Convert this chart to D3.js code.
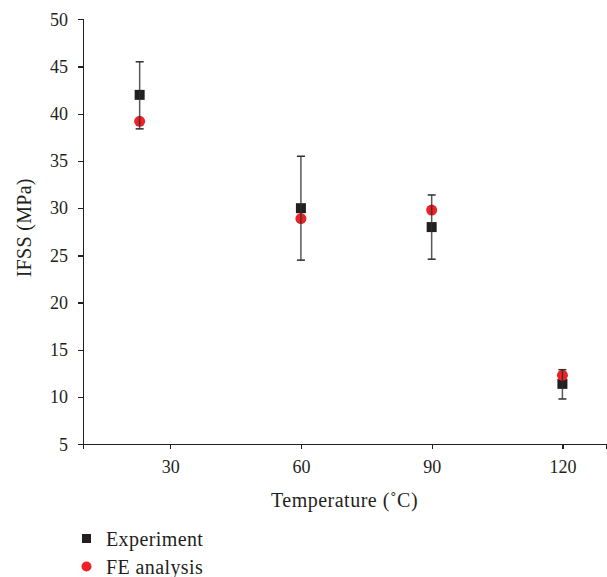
<!DOCTYPE html>
<html>
<head>
<meta charset="utf-8">
<script src="https://cdn.jsdelivr.net/npm/d3@7"></script>
<style>
    body { margin: 0; background: #fff; }
    svg text { font-family: "Liberation Serif", "DejaVu Serif", serif; fill: #231f20; }
</style>
</head>
<body>
<div id="chart"></div>
<script>

const temperatures = [23, 60, 90, 120]
const experiment = [42, 30, 28, 11.4]
const experimentHigh = [45.5, 35.5, 31.4, 12.9]
const experimentLow = [38.4, 24.5, 24.6, 9.8]
const feAnalysis = [39.2, 28.9, 29.8, 12.3]

const xTicks = [30, 60, 90, 120]
const yTicks = [5, 10, 15, 20, 25, 30, 35, 40, 45, 50]
const legendLabels = ['Experiment', 'FE analysis']

document.addEventListener("DOMContentLoaded", function() {
    drawChart()
});

function drawChart() {
    const width = 607
    const height = 577
    const ink = '#231f20'

    const svg = d3.select('#chart').append('svg')
        .attr('width', width)
        .attr('height', height)

    const x = d3.scaleLinear()
        .domain([10, 130])
        .range([83, 606])

    const y = d3.scaleLinear()
        .domain([5, 50])
        .range([444.3, 19.3])

    const xAxis = d3.axisBottom(x)
        .tickValues(xTicks)
        .tickSizeOuter(0)
        .tickSize(5)
        .tickPadding(11)

    const yAxis = d3.axisLeft(y)
        .tickValues(yTicks)
        .tickSizeOuter(0)
        .tickSize(5)
        .tickPadding(10)

    svg.append('g')
        .attr('transform', `translate(0,${y(5)})`)
        .call(xAxis)

    svg.append('g')
        .attr('transform', `translate(${x(10)},0)`)
        .call(yAxis)

    // plain black axis lines, serif labels
    svg.selectAll('.domain, .tick line')
        .attr('stroke', ink)
        .attr('stroke-width', 1.3)
        .style('shape-rendering', 'crispEdges')

    svg.selectAll('.tick text')
        .style('font-size', '18px')
        .attr('fill', ink)

    svg.append('text')
        .attr('x', (x(10) + x(130)) / 2)
        .attr('y', 507)
        .attr('text-anchor', 'middle')
        .style('font-size', '20px')
        .style('letter-spacing', '0.5px')
        .text('Temperature (˚C)')

    svg.append('text')
        .attr('transform', `translate(31,${(y(5) + y(50)) / 2 - 4}) rotate(-90)`)
        .attr('text-anchor', 'middle')
        .style('font-size', '20px')
        .style('letter-spacing', '0.3px')
        .text('IFSS (MPa)')

    const points = temperatures.map((t, i) => ({
        t: t,
        exp: experiment[i],
        hi: experimentHigh[i],
        lo: experimentLow[i],
        fe: feAnalysis[i]
    }))

    const sq = 10

    svg.append('g').selectAll('rect')
        .data(points)
        .enter().append('rect')
            .attr('x', d => x(d.t) - sq / 2)
            .attr('y', d => y(d.exp) - sq / 2)
            .attr('width', sq)
            .attr('height', sq)
            .attr('fill', '#231f20')

    svg.append('g').selectAll('circle')
        .data(points)
        .enter().append('circle')
            .attr('cx', d => x(d.t))
            .attr('cy', d => y(d.fe))
            .attr('r', 5.5)
            .attr('fill', '#ec2227')

    // error bars on top of the markers
    const bars = svg.append('g')
        .attr('stroke', '#2e2e2e')
        .attr('stroke-width', 1.5)

    bars.selectAll('line.stem')
        .data(points)
        .enter().append('line')
            .attr('class', 'stem')
            .attr('x1', d => x(d.t))
            .attr('x2', d => x(d.t))
            .attr('y1', d => y(d.hi))
            .attr('y2', d => y(d.lo))
            .attr('stroke-opacity', 0.8)

    bars.selectAll('line.cap')
        .data(points.flatMap(d => [{t: d.t, v: d.hi}, {t: d.t, v: d.lo}]))
        .enter().append('line')
            .attr('class', 'cap')
            .attr('x1', d => x(d.t) - 4)
            .attr('x2', d => x(d.t) + 4)
            .attr('y1', d => y(d.v))
            .attr('y2', d => y(d.v))

    const legend = svg.append('g')

    legend.append('rect')
        .attr('x', 82)
        .attr('y', 534)
        .attr('width', 9)
        .attr('height', 9)
        .attr('fill', '#231f20')

    legend.append('circle')
        .attr('cx', 86.5)
        .attr('cy', 566.5)
        .attr('r', 5)
        .attr('fill', '#ec2227')

    legend.selectAll('text')
        .data(legendLabels)
        .enter().append('text')
            .attr('x', 106)
            .attr('y', (d, i) => 546 + i * 28)
            .style('font-size', '20px')
            .style('letter-spacing', '0.4px')
            .text(d => d)
}
</script>
</body>
</html>
